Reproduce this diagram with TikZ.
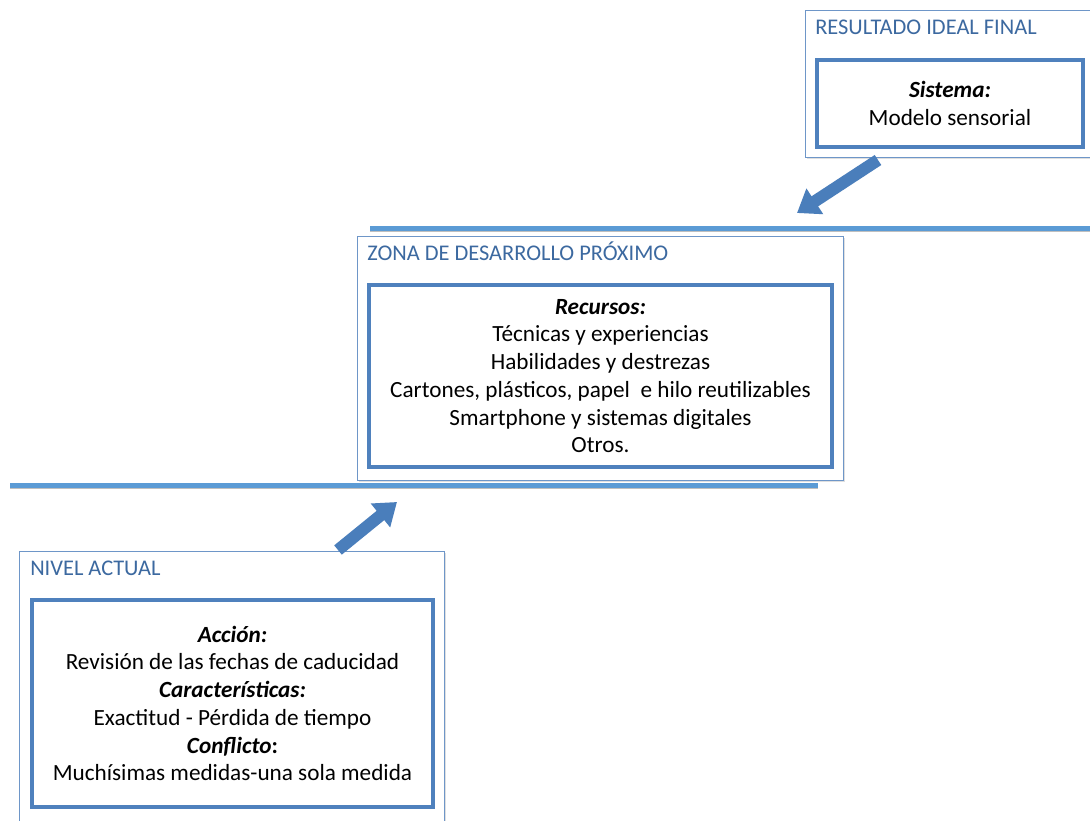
\documentclass[tikz,border=0pt]{standalone}
\usepackage{fontspec}
\setmainfont{Carlito}
\usetikzlibrary{arrows.meta,shadows}
\definecolor{boxblue}{RGB}{79,129,189}
\definecolor{outerblue}{RGB}{110,150,200}
\definecolor{labelblue}{RGB}{60,105,160}
\definecolor{lineblue}{RGB}{91,155,213}
\definecolor{arrowblue}{RGB}{74,126,187}
\tikzset{
  outerbox/.style={draw=outerblue, line width=0.9pt, fill=white, anchor=north west, inner sep=0pt,
    drop shadow={opacity=0.25, shadow xshift=1.2pt, shadow yshift=-1.2pt}},
  innerbox/.style={draw=boxblue, line width=2.3pt, fill=white, align=center, inner sep=0pt,
    font=\fontsize{17.4}{20.8}\selectfont},
  lbl/.style={anchor=base west, text=labelblue, inner sep=0pt, font=\fontsize{16.8}{20}\selectfont},
  level/.style={draw=lineblue, line width=3.75pt},
  levelshadow/.style={draw=black!25, line width=3.75pt},
  blockarrow/.style={draw=arrowblue, line width=9pt,
    -{Triangle[width=22pt,length=16pt]}},
}
\begin{document}
\begin{tikzpicture}[x=0.75pt,y=-0.75pt]
\clip (0,0) rectangle (1090,821);
\fill[white] (0,0) rectangle (1090,821);

% level lines
\coordinate (t1) at (370,228);
\coordinate (t2) at (1100,228);
\coordinate (b1) at (10,485);
\coordinate (b2) at (818,485);
\draw[levelshadow] ([yshift=-1.2pt]t1) -- ([yshift=-1.2pt]t2);
\draw[level] (t1) -- (t2);

% top: resultado ideal final
\node[outerbox, minimum width=225pt, minimum height=110.25pt] (rif) at (805,10) {};
\node[lbl] (riflbl) at (815,34) {RESULTADO IDEAL FINAL};
\node[innerbox, minimum width=199.5pt, minimum height=65.25pt] (sis) at (950,103.5)
  {\textbf{\textit{Sistema:}}\\Modelo sensorial};

% middle: zona de desarrollo proximo
\node[outerbox, minimum width=364.5pt, minimum height=183pt] (zdp) at (357,236) {};
\node[lbl] (zdplbl) at (367,260) {ZONA DE DESARROLLO PRÓXIMO};
\node[innerbox, minimum width=347.25pt, minimum height=136.5pt] (rec) at (600.5,376)
  {\textbf{\textit{Recursos:}}\\Técnicas y experiencias\\Habilidades y destrezas\\Cartones, plásticos, papel\ \ e hilo reutilizables\\Smartphone y sistemas digitales\\Otros.};

\draw[levelshadow] ([yshift=-1.2pt]b1) -- ([yshift=-1.2pt]b2);
\draw[level] (b1) -- (b2);

% bottom: nivel actual
\node[outerbox, minimum width=318.75pt, minimum height=209.25pt] (na) at (19,551) {};
\node[lbl] (nalbl) at (30,575) {NIVEL ACTUAL};
\node[innerbox, minimum width=300.75pt, minimum height=155.25pt] (acc) at (232.5,703.5)
  {\textbf{\textit{Acción:}}\\Revisión de las fechas de caducidad\\\textbf{\textit{Características:}}\\Exactitud - Pérdida de tiempo\\\textbf{\textit{Conflicto}:}\\Muchísimas medidas-una sola medida};

% block arrows
\coordinate (a1s) at (878,160);
\coordinate (a1e) at (797,213);
\coordinate (a2s) at (338,550);
\coordinate (a2e) at (397,502);
\draw[blockarrow] (a1s) -- (a1e);
\draw[blockarrow] (a2s) -- (a2e);
\end{tikzpicture}
\end{document}
